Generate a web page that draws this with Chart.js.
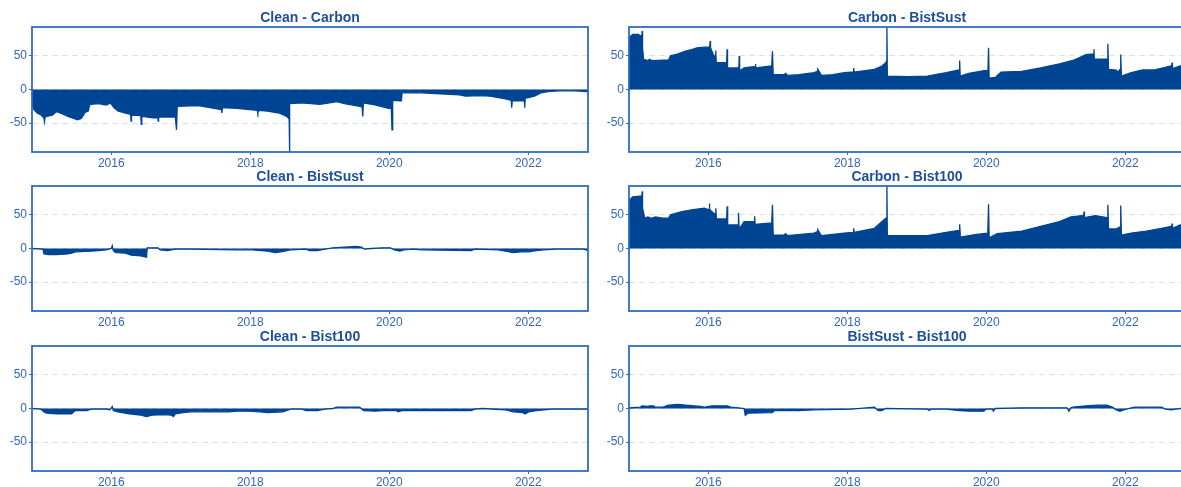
<!DOCTYPE html>
<html>
<head>
<meta charset="utf-8">
<script src="https://cdn.jsdelivr.net/npm/chart.js@4.4.0/dist/chart.umd.min.js"></script>
<style>
html, body { margin: 0; padding: 0; background: #fff; overflow: hidden; width: 1181px; height: 487px; }
.panel { position: absolute; }
</style>
</head>
<body>
<div class="panel" style="left:0px;top:0px"><canvas id="p1" width="592" height="172"></canvas></div>
<div class="panel" style="left:597px;top:0px"><canvas id="p2" width="592" height="172"></canvas></div>
<div class="panel" style="left:0px;top:159px"><canvas id="p3" width="592" height="172"></canvas></div>
<div class="panel" style="left:597px;top:159px"><canvas id="p4" width="592" height="172"></canvas></div>
<div class="panel" style="left:0px;top:319px"><canvas id="p5" width="592" height="172"></canvas></div>
<div class="panel" style="left:597px;top:319px"><canvas id="p6" width="592" height="172"></canvas></div>
<script>
// axes
const yearTicks = [2016, 2018, 2020, 2022];
const valueTicks = [-50, 0, 50];

// Clean - Carbon
const cleanCarbonDates = [2014.856, 2014.870, 2014.889, 2014.934, 2014.989, 2015.030, 2015.040, 2015.048, 2015.072, 2015.155,
  2015.200, 2015.215, 2015.293, 2015.376, 2015.459, 2015.514, 2015.569, 2015.600, 2015.624, 2015.670,
  2015.690, 2015.707, 2015.818, 2015.928, 2015.975, 2015.983, 2016.000, 2016.039, 2016.094, 2016.204,
  2016.280, 2016.285, 2016.292, 2016.425, 2016.432, 2016.440, 2016.520, 2016.600, 2016.670, 2016.676,
  2016.682, 2016.812, 2016.923, 2016.939, 2016.950, 2017.254, 2017.586, 2017.592, 2017.600, 2017.807,
  2018.100, 2018.110, 2018.120, 2018.249, 2018.414, 2018.525, 2018.560, 2018.564, 2018.570, 2018.746,
  2019.000, 2019.188, 2019.243, 2019.354, 2019.575, 2019.610, 2019.619, 2019.628, 2019.796, 2019.989,
  2020.030, 2020.040, 2020.050, 2020.155, 2020.175, 2020.185, 2020.459, 2021.011, 2021.100, 2021.287,
  2021.453, 2021.674, 2021.755, 2021.762, 2021.770, 2021.923, 2021.945, 2021.950, 2021.956, 2022.006,
  2022.088, 2022.182, 2022.282, 2022.448, 2022.669, 2022.860];
const cleanCarbonValues = [-18, -25, -30, -35, -38, -42, -48, -41, -40, -38,
  -34, -33, -36, -40, -43, -45, -43, -38, -34, -32,
  -23, -22, -21, -23, -21, -17, -22, -27, -32, -35,
  -37, -47, -38, -39, -52, -40, -41, -42, -42, -47,
  -41, -41, -41, -60, -25, -24, -30, -35, -27, -28,
  -31, -35, -31, -32, -35, -40, -44, -93, -21, -20,
  -22, -19, -18, -21, -25, -26, -40, -20, -23, -28,
  -28, -60, -16, -17, -17, -5, -5, -8, -10, -9,
  -10, -14, -16, -27, -17, -17, -17, -27, -13, -12,
  -10, -5, -3, -2, -2, -3];

// Carbon - BistSust
const carbonBistSustDates = [2014.860, 2014.870, 2014.913, 2014.995, 2015.022, 2015.045, 2015.049, 2015.055, 2015.070, 2015.130,
  2015.158, 2015.185, 2015.429, 2015.457, 2015.565, 2015.674, 2015.783, 2015.837, 2015.946, 2016.000,
  2016.022, 2016.027, 2016.033, 2016.082, 2016.105, 2016.109, 2016.115, 2016.265, 2016.272, 2016.278,
  2016.440, 2016.446, 2016.452, 2016.516, 2016.652, 2016.675, 2016.679, 2016.685, 2016.913, 2016.924,
  2016.935, 2017.087, 2017.114, 2017.141, 2017.304, 2017.522, 2017.570, 2017.576, 2017.630, 2017.793,
  2017.957, 2018.065, 2018.090, 2018.092, 2018.100, 2018.391, 2018.500, 2018.554, 2018.566, 2018.571,
  2018.577, 2018.880, 2019.152, 2019.424, 2019.610, 2019.618, 2019.625, 2019.750, 2019.967, 2020.025,
  2020.033, 2020.042, 2020.130, 2020.212, 2020.511, 2020.783, 2021.054, 2021.272, 2021.435, 2021.543,
  2021.550, 2021.556, 2021.707, 2021.745, 2021.750, 2021.760, 2021.870, 2021.897, 2021.924, 2021.930,
  2021.935, 2021.945, 2022.087, 2022.250, 2022.413, 2022.576, 2022.658, 2022.670, 2022.674, 2022.680,
  2022.793, 2022.860];
const carbonBistSustValues = [68, 78, 82, 82, 80, 80, 87, 62, 45, 43,
  45, 43, 44, 50, 53, 57, 60, 62, 63, 63,
  63, 72, 62, 50, 50, 58, 40, 40, 60, 32,
  32, 50, 28, 32, 34, 34, 38, 32, 35, 57,
  22, 22, 24, 21, 22, 25, 27, 30, 21, 22,
  25, 26, 26, 32, 26, 30, 35, 40, 42, 92,
  20, 19, 20, 25, 29, 43, 20, 24, 28, 28,
  62, 17, 18, 26, 27, 32, 38, 44, 52, 53,
  60, 45, 45, 45, 68, 30, 29, 26, 30, 30,
  52, 20, 25, 29, 29, 33, 35, 35, 40, 31,
  35, 37];

// Clean - BistSust
const cleanBistSustDates = [2014.856, 2015.017, 2015.033, 2015.100, 2015.210, 2015.376, 2015.431, 2015.486, 2015.707, 2015.818,
  2015.928, 2016.000, 2016.015, 2016.030, 2016.066, 2016.204, 2016.287, 2016.425, 2016.508, 2016.518,
  2016.674, 2016.702, 2016.812, 2016.923, 2017.144, 2017.807, 2018.028, 2018.249, 2018.359, 2018.442,
  2018.580, 2018.801, 2018.856, 2018.967, 2019.077, 2019.188, 2019.354, 2019.519, 2019.602, 2019.640,
  2019.740, 2019.906, 2020.017, 2020.072, 2020.155, 2020.210, 2020.348, 2020.459, 2021.177, 2021.232,
  2021.564, 2021.674, 2021.785, 2021.895, 2022.006, 2022.116, 2022.227, 2022.392, 2022.800, 2022.860];
const cleanBistSustValues = [0, -1, -8, -9, -9, -8, -7, -5, -4, -3,
  -2, 0, 4, -3, -6, -7, -10, -11, -13, 1,
  1, -2, -3, -1, -1, -2, -2, -4, -6, -5,
  -2, -1, -3, -3, -1, 1, 2, 3, 2, -1,
  0, 1, 1, -2, -4, -2, -1, -2, -3, -1,
  -2, -4, -6, -5, -5, -3, -2, -1, -1, -3];

// Carbon - Bist100
const carbonBist100Dates = [2014.860, 2014.870, 2014.913, 2015.022, 2015.045, 2015.049, 2015.055, 2015.087, 2015.130, 2015.185,
  2015.239, 2015.348, 2015.429, 2015.457, 2015.620, 2015.783, 2015.946, 2016.000, 2016.012, 2016.016,
  2016.022, 2016.082, 2016.105, 2016.109, 2016.118, 2016.265, 2016.272, 2016.280, 2016.430, 2016.435,
  2016.445, 2016.516, 2016.652, 2016.664, 2016.668, 2016.675, 2016.913, 2016.924, 2016.935, 2017.087,
  2017.114, 2017.141, 2017.522, 2017.570, 2017.576, 2017.630, 2017.957, 2018.085, 2018.092, 2018.100,
  2018.391, 2018.554, 2018.566, 2018.571, 2018.577, 2018.880, 2019.152, 2019.424, 2019.610, 2019.618,
  2019.628, 2019.859, 2020.022, 2020.033, 2020.042, 2020.158, 2020.511, 2020.783, 2021.054, 2021.217,
  2021.380, 2021.402, 2021.408, 2021.414, 2021.571, 2021.734, 2021.745, 2021.750, 2021.760, 2021.870,
  2021.924, 2021.930, 2021.935, 2021.945, 2022.087, 2022.304, 2022.522, 2022.658, 2022.670, 2022.674,
  2022.680, 2022.793, 2022.860];
const carbonBist100Values = [62, 72, 77, 78, 78, 85, 60, 45, 47, 45,
  47, 45, 45, 50, 55, 58, 60, 58, 58, 67,
  58, 52, 52, 60, 44, 44, 63, 35, 35, 53,
  29, 40, 40, 40, 48, 36, 38, 65, 20, 20,
  22, 19, 23, 25, 28, 19, 23, 24, 30, 24,
  30, 45, 46, 94, 19, 19, 19, 24, 27, 36,
  17, 21, 23, 66, 16, 22, 26, 33, 40, 47,
  49, 49, 55, 46, 49, 46, 46, 65, 29, 29,
  32, 32, 64, 20, 23, 26, 30, 33, 33, 37,
  30, 35, 36];

// Clean - Bist100
const cleanBist100Dates = [2014.856, 2014.989, 2015.033, 2015.072, 2015.210, 2015.431, 2015.459, 2015.486, 2015.652, 2015.707,
  2015.928, 2015.983, 2016.015, 2016.030, 2016.094, 2016.260, 2016.425, 2016.508, 2016.591, 2016.757,
  2016.867, 2016.895, 2016.923, 2017.033, 2017.144, 2017.696, 2017.807, 2017.972, 2018.138, 2018.249,
  2018.470, 2018.552, 2018.580, 2018.746, 2018.801, 2018.967, 2019.077, 2019.188, 2019.243, 2019.575,
  2019.630, 2019.796, 2019.906, 2020.100, 2020.127, 2020.182, 2020.459, 2021.177, 2021.232, 2021.343,
  2021.674, 2021.785, 2021.923, 2021.950, 2022.006, 2022.116, 2022.337, 2022.860];
const cleanBist100Values = [0, -1, -5, -7, -8, -8, -5, -3, -3, -1,
  -1, -2, 3, -3, -5, -8, -10, -12, -10, -9,
  -10, -12, -8, -6, -5, -5, -4, -4, -5, -6,
  -5, -2, -1, -1, -3, -3, -1, 0, 2, 2,
  -3, -4, -3, -3, -5, -3, -3, -3, -1, 0,
  -2, -5, -6, -8, -5, -3, -1, -1];

// BistSust - Bist100
const bistSustBist100Dates = [2014.860, 2015.022, 2015.049, 2015.130, 2015.158, 2015.212, 2015.239, 2015.348, 2015.429, 2015.565,
  2015.674, 2015.891, 2015.946, 2016.054, 2016.272, 2016.326, 2016.435, 2016.516, 2016.533, 2016.571,
  2016.924, 2016.951, 2017.304, 2017.522, 2018.065, 2018.391, 2018.446, 2018.500, 2018.554, 2019.152,
  2019.179, 2019.207, 2019.424, 2019.614, 2019.750, 2019.967, 2019.995, 2020.090, 2020.103, 2020.130,
  2020.511, 2021.163, 2021.190, 2021.217, 2021.245, 2021.435, 2021.598, 2021.734, 2021.815, 2021.870,
  2021.924, 2021.978, 2022.087, 2022.141, 2022.522, 2022.576, 2022.658, 2022.793, 2022.860];
const bistSustBist100Values = [1, 2, 4, 3, 4, 4, 2, 2, 5, 6,
  5, 3, 2, 4, 4, 2, 1, 0, -10, -7,
  -6, -3, -3, -2, -1, 2, -3, -3, 0, -1,
  -3, -1, -1, -3, -4, -4, -1, -1, -4, 0,
  1, 1, -4, 1, 2, 4, 5, 5, 2, -2,
  -4, -2, 1, 2, 2, -1, -2, 0, 0];

const bleuFonce = '#004494';
const bleuCadre = '#2F6DC5';
const bleuTexte = '#3467B5';

// cadre autour de la zone de tracé
const cadre = {
  id: 'cadre',
  afterDraw(chart) {
    const { ctx, chartArea: a } = chart;
    ctx.save();
    ctx.strokeStyle = bleuCadre;
    ctx.lineWidth = 1.8;
    ctx.strokeRect(a.left, a.top, a.right - a.left, a.bottom - a.top);
    ctx.restore();
  }
};

function makePanel(id, titre, dates, values) {
  const ctx = document.getElementById(id).getContext('2d');
  return new Chart(ctx, {
    type: 'line',
    data: {
      datasets: [{
        data: dates.map((d, i) => ({ x: d, y: values[i] })),
        borderColor: bleuFonce,
        backgroundColor: bleuFonce,
        borderWidth: 1.3,
        fill: 'origin',
        pointRadius: 0,
        tension: 0
      }]
    },
    options: {
      responsive: false,
      animation: false,
      layout: { padding: { left: 0, right: 4, top: 0, bottom: 0 } },
      scales: {
        x: {
          type: 'linear',
          min: 2014.86,
          max: 2022.86,
          afterBuildTicks: s => { s.ticks = yearTicks.map(v => ({ value: v })); },
          afterFit: s => { s.height = 20; },
          ticks: {
            color: bleuTexte,
            font: { family: 'Liberation Sans', size: 12 },
            padding: 1,
            maxRotation: 0,
            autoSkip: false,
            callback: v => String(v)
          },
          grid: { drawOnChartArea: false, tickLength: 3, tickColor: bleuCadre },
          border: { display: false }
        },
        y: {
          min: -93,
          max: 93,
          afterBuildTicks: s => { s.ticks = valueTicks.map(v => ({ value: v })); },
          afterFit: s => { s.width = 32; },
          ticks: {
            color: bleuTexte,
            font: { family: 'Liberation Sans', size: 12 },
            padding: 2
          },
          grid: {
            color: '#D8E1F0',
            lineWidth: 1,
            tickLength: 3,
            tickColor: bleuCadre,
            tickBorderDash: []
          },
          border: { display: false, dash: [6, 4] }
        }
      },
      plugins: {
        legend: { display: false },
        tooltip: { enabled: false },
        title: {
          display: true,
          text: titre,
          fullSize: false,
          color: '#1D4F9A',
          font: { family: 'Liberation Sans', size: 14, weight: 'bold' },
          padding: { top: 10.2, bottom: 0 }
        }
      }
    },
    plugins: [cadre]
  });
}

makePanel('p1', 'Clean - Carbon', cleanCarbonDates, cleanCarbonValues);
makePanel('p2', 'Carbon - BistSust', carbonBistSustDates, carbonBistSustValues);
makePanel('p3', 'Clean - BistSust', cleanBistSustDates, cleanBistSustValues);
makePanel('p4', 'Carbon - Bist100', carbonBist100Dates, carbonBist100Values);
makePanel('p5', 'Clean - Bist100', cleanBist100Dates, cleanBist100Values);
makePanel('p6', 'BistSust - Bist100', bistSustBist100Dates, bistSustBist100Values);
</script>
</body>
</html>
